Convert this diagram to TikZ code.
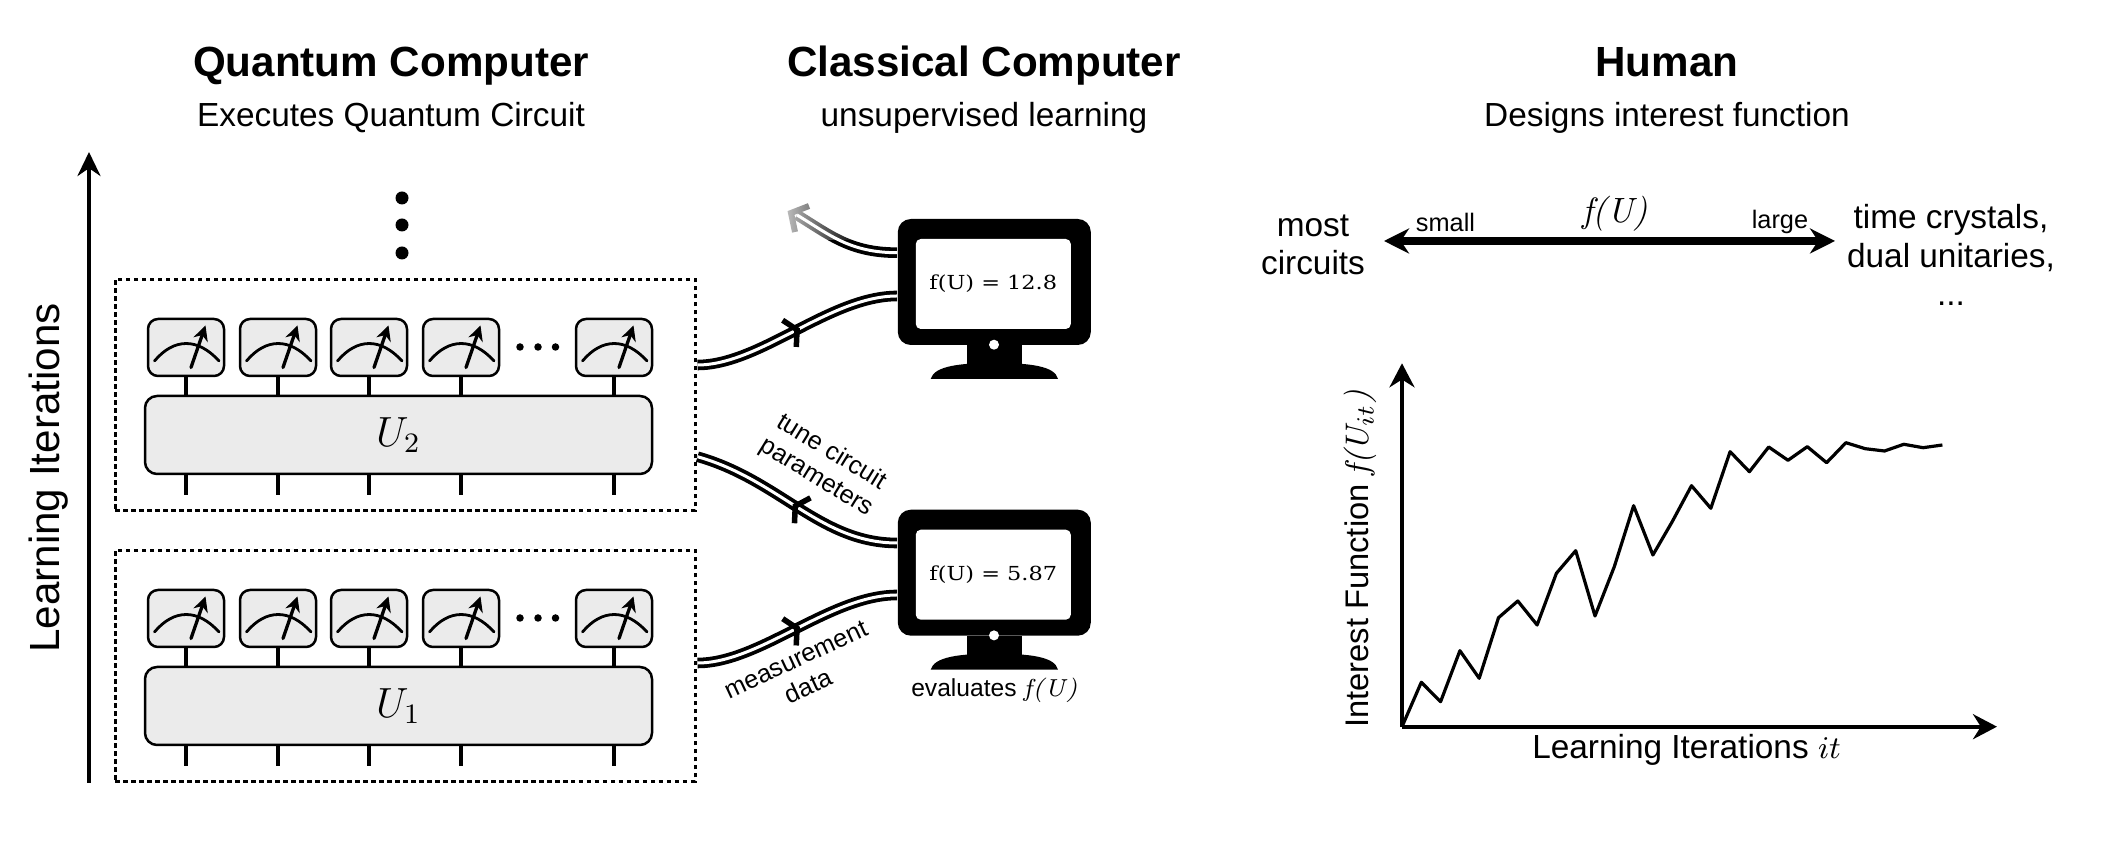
\documentclass[tikz,border=0pt]{standalone}
\usepackage{fontspec}
\setsansfont{Liberation Sans}
\newfontfamily\screenfont{DejaVu Serif}[FakeStretch=1.16]
\renewcommand{\familydefault}{\sfdefault}
\usetikzlibrary{arrows.meta,decorations.markings,fadings}
\newcommand{\slnt}[1]{{\rmfamily\itshape #1}}
\tikzset{
	meterbox/.style={shape=rectangle, draw, fill=black!8, rounded corners=1mm, line width=0.25mm, minimum width=7.6mm, minimum height=5.7mm, inner sep=0pt},
	meter/.pic={
		\node[meterbox] (-box) at (0,0) {};
		\draw[line width=0.28mm, line cap=round] (-31.5,13.5) .. controls (-12,-9.8) and (12,-9.8) .. (33,13.5);
		\draw[line width=0.33mm, line cap=round, -{Stealth[length=1.5mm,width=1.5mm]}] (5,20) -- (19.5,-22);
	},
	unitary/.style={shape=rectangle, draw, fill=black!8, rounded corners=1.2mm, line width=0.25mm, minimum width=50.7mm, minimum height=7.8mm, inner sep=0pt, font=\fontsize{11.5}{13}\selectfont},
	stage/.style={shape=rectangle, draw, dash pattern=on 0.45mm off 0.35mm, line width=0.3mm, minimum width=58mm, minimum height=23.1mm, inner sep=0pt},
	wire/.style={line width=0.38mm},
	title/.style={anchor=base, font=\bfseries\fontsize{12}{14}\selectfont},
	subtitle/.style={anchor=base, font=\fontsize{9.5}{11}\selectfont},
	body/.style={font=\fontsize{9.5}{11}\selectfont},
	note/.style={font=\fontsize{7.2}{8.4}\selectfont, align=center},
	axis/.style={line width=0.38mm, -{Stealth[length=2.4mm,width=2.5mm]}},
	vdot/.style={shape=circle, fill=black, minimum size=1.3mm, inner sep=0pt},
	hdot/.style={shape=circle, fill=black, minimum size=0.75mm, inner sep=0pt},
	tick/.style={postaction={decorate}, decoration={markings, mark=at position 0.5 with {\draw[line width=0.55mm, double=none] (-8.5,-15) -- (0,0) -- (-8.5,15);}}},
	backtick/.style={postaction={decorate}, decoration={markings, mark=at position 0.5 with {\draw[line width=0.55mm, double=none] (8.5,-15) -- (0,0) -- (8.5,15);}}},
	cable/.style={draw, line width=0.38mm, double=white, double distance=0.3mm},
	frame/.style={shape=rectangle, fill=black, rounded corners=1.3mm, minimum width=19.3mm, minimum height=12.6mm, inner sep=0pt},
	screen/.style={shape=rectangle, fill=white, rounded corners=0.5mm, minimum width=15.5mm, minimum height=9mm, inner sep=0pt, font=\screenfont\fontsize{5.5}{6}\selectfont},
}
\begin{document}
\begin{tikzpicture}[x=0.1mm, y=-0.1mm]
	\useasboundingbox (0,0) rectangle (2116,846);
	% Paths, nodes and wires:
	\node[title] (titleq) at (391, 76.5) {Quantum Computer};
	\node[subtitle] (subq) at (391, 126.5) {Executes Quantum Circuit};
	\node[title] (titlec) at (984, 76.5) {Classical Computer};
	\node[subtitle] (subc) at (984, 126.5) {unsupervised learning};
	\node[title] (titleh) at (1667, 76.5) {Human};
	\node[subtitle] (subh) at (1667, 126.5) {Designs interest function};

	\coordinate (itbot) at (89, 783);
	\coordinate (ittop) at (89, 152);
	\draw[line width=0.38mm, -{Stealth[length=2.4mm,width=2.3mm]}] (itbot) -- (ittop);
	\node[rotate=90, font=\fontsize{12}{14}\selectfont] (itlabel) at (49, 478) {Learning Iterations};
	\node[vdot] (vd1) at (402, 198) {};
	\node[vdot] (vd2) at (402, 225) {};
	\node[vdot] (vd3) at (402, 253) {};

	% second iteration
	\node[stage] (stagetwo) at (405, 395) {};
	\node[unitary] (utwo) at (398.5, 435) {$U_2$};
	\pic (b1) at (186, 347.5) {meter};
	\pic (b2) at (278, 347.5) {meter};
	\pic (b3) at (369, 347.5) {meter};
	\pic (b4) at (461, 347.5) {meter};
	\pic (b5) at (614, 347.5) {meter};
	\node[hdot] (bdot1) at (520, 347) {};
	\node[hdot] (bdot2) at (538, 347) {};
	\node[hdot] (bdot3) at (555.5, 347) {};
	\draw[wire] (b1-box) -- (b1-box |- utwo.north);
	\draw[wire] (b2-box) -- (b2-box |- utwo.north);
	\draw[wire] (b3-box) -- (b3-box |- utwo.north);
	\draw[wire] (b4-box) -- (b4-box |- utwo.north);
	\draw[wire] (b5-box) -- (b5-box |- utwo.north);
	\draw[wire] (b1-box |- utwo.south) -- ++(0,20) coordinate (be1);
	\draw[wire] (b2-box |- utwo.south) -- ++(0,20) coordinate (be2);
	\draw[wire] (b3-box |- utwo.south) -- ++(0,20) coordinate (be3);
	\draw[wire] (b4-box |- utwo.south) -- ++(0,20) coordinate (be4);
	\draw[wire] (b5-box |- utwo.south) -- ++(0,20) coordinate (be5);

	% first iteration
	\node[stage] (stageone) at (405, 666) {};
	\node[unitary] (uone) at (398.5, 706) {$U_1$};
	\pic (a1) at (186, 618.5) {meter};
	\pic (a2) at (278, 618.5) {meter};
	\pic (a3) at (369, 618.5) {meter};
	\pic (a4) at (461, 618.5) {meter};
	\pic (a5) at (614, 618.5) {meter};
	\node[hdot] (adot1) at (520, 618) {};
	\node[hdot] (adot2) at (538, 618) {};
	\node[hdot] (adot3) at (555.5, 618) {};
	\draw[wire] (a1-box) -- (a1-box |- uone.north);
	\draw[wire] (a2-box) -- (a2-box |- uone.north);
	\draw[wire] (a3-box) -- (a3-box |- uone.north);
	\draw[wire] (a4-box) -- (a4-box |- uone.north);
	\draw[wire] (a5-box) -- (a5-box |- uone.north);
	\draw[wire] (a1-box |- uone.south) -- ++(0,20) coordinate (ae1);
	\draw[wire] (a2-box |- uone.south) -- ++(0,20) coordinate (ae2);
	\draw[wire] (a3-box |- uone.south) -- ++(0,20) coordinate (ae3);
	\draw[wire] (a4-box |- uone.south) -- ++(0,20) coordinate (ae4);
	\draw[wire] (a5-box |- uone.south) -- ++(0,20) coordinate (ae5);

	% computers
	\node[frame] (comptwo) at (994.3, 282) {};
	\node[screen] (screentwo) at (993.3, 284) {\raisebox{0.4mm}{f(U) = 12.8}};
	\fill (966.7, 345) rectangle (1022.3, 365);
	\fill (930.7, 379) .. controls (934, 366) and (960, 363) .. (994, 363) .. controls (1030, 363) and (1055, 366) .. (1058, 379) -- cycle;
	\fill[white] (994, 344.7) circle (5);
	\node[frame] (compone) at (994.3, 572.7) {};
	\node[screen] (screenone) at (993.3, 574.7) {\raisebox{0.4mm}{f(U) = 5.87}};
	\fill (966.7, 635.7) rectangle (1022.3, 655.7);
	\fill (930.7, 669.7) .. controls (934, 656.7) and (960, 653.7) .. (994, 653.7) .. controls (1030, 653.7) and (1055, 656.7) .. (1058, 669.7) -- cycle;
	\fill[white] (994, 635.4) circle (5);
	\node[font=\fontsize{7}{8.5}\selectfont] (evaluates) at (994.5, 690) {evaluates \slnt{f(U)}};

	% cables
	\coordinate (cableend) at (797, 215);
	\coordinate (tipa) at (809, 206);
	\coordinate (tipb) at (791, 213);
	\coordinate (tipc) at (795, 232);
	\draw[cable, tick] ([shift={(1,-30)}]stagetwo.east) .. controls (760,365) and (830,296) .. ([shift={(0,14)}]comptwo.west);
	\draw[cable, backtick] ([shift={(1,61.7)}]stagetwo.east) .. controls (780,480) and (820,543) .. ([shift={(0,-29.7)}]compone.west);
	\draw[cable, tick] ([shift={(1,-3)}]stageone.east) .. controls (760,663) and (830,595) .. ([shift={(0,22.3)}]compone.west);
	\draw[cable] ([shift={(0,-29.3)}]comptwo.west) .. controls (850,252.7) and (830,235) .. (cableend);
	\draw[line width=0.6mm, line join=miter] (tipa) -- (tipb) -- (tipc);
	\fill[white, opacity=0.8, path fading=east] (780,192) rectangle (860,240);

	\node[note, rotate=-31.5] (tunelabel) at (823.7, 465) {tune circuit\\parameters};
	\node[note, rotate=25] (measlabel) at (802.3, 673) {measurement\\data};

	% human
	\coordinate (fleft) at (1384, 241);
	\coordinate (fright) at (1835, 241);
	\draw[line width=0.75mm, {Stealth[length=2.5mm,width=2.5mm]}-{Stealth[length=2.5mm,width=2.5mm]}] (fleft) -- (fright);
	\node[font=\fontsize{10}{12}\selectfont] (flabel) at (1615, 214) {\slnt{f(U)}};
	\node[font=\fontsize{7.2}{9}\selectfont] (small) at (1445.5, 222) {small};
	\node[font=\fontsize{7.2}{9}\selectfont] (large) at (1780, 222) {large};
	\node[body, align=center] (most) at (1313, 245) {most\\circuits};
	\node[body, align=center] (crystals) at (1951, 255) {time crystals,\\dual unitaries,\\...};

	\coordinate (origin) at (1402, 726.7);
	\coordinate (xend) at (1997, 726.7);
	\coordinate (yend) at (1402, 363.3);
	\draw[axis] (origin) -- (xend);
	\draw[axis] (origin) -- (yend);
	\draw[line width=0.32mm, line join=round] plot coordinates {(1402,726.7) (1421.3,682.3) (1440.6,701.7) (1459.9,650.7) (1479.2,678.3) (1498.5,617.7) (1517.8,601) (1537.1,625) (1556.4,573.3) (1575.7,550.7) (1595,616) (1614.3,566.7) (1633.6,505.7) (1652.9,555) (1672.2,521.7) (1691.5,485.7) (1710.8,508.3) (1730.1,451.7) (1749.4,471.7) (1768.7,447) (1788,460.3) (1807.3,446.7) (1826.6,462.7) (1845.9,442.7) (1865.2,448.7) (1884.5,451) (1903.8,444.3) (1923.1,447.7) (1942.4,445)};
	\node[body] (xlabel) at (1686.6, 750) {Learning Iterations $it$};
	\node[font=\fontsize{9.3}{11}\selectfont, rotate=90] (ylabel) at (1360, 559) {Interest Function \slnt{f(U}$_{it}$\slnt{)}};
\end{tikzpicture}
\end{document}
